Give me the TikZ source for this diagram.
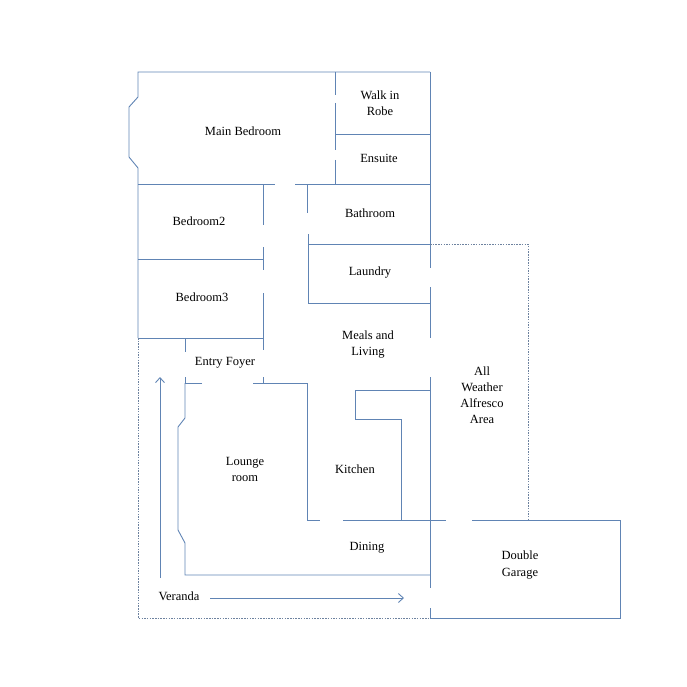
\documentclass[tikz,border=0pt]{standalone}
\usepackage{fontspec}
\setmainfont{Liberation Serif}
\usetikzlibrary{arrows.meta}
\definecolor{wall}{HTML}{6084B4}
\begin{document}
\begin{tikzpicture}[x=1pt,y=-1pt,
  w/.style={draw=wall,line width=0.9pt},
  dsh/.style={draw=wall!60!gray,line width=0.7pt,dash pattern=on 1.5pt off 1.2pt},
  arr/.style={draw=wall,line width=0.9pt,-{Straight Barb[length=5pt,width=9pt]}},
  lbl/.style={font=\fontsize{12.5}{16}\selectfont,align=center,text=black}]
\useasboundingbox (0,0) rectangle (687,687);
% outer / main bedroom
\draw[w] (430,72) -- (138,72) -- (138,97) -- (129,107) -- (129,157) -- (138,168) -- (138,338);
\draw[w] (430,72) -- (430,268);
\draw[w] (430,287) -- (430,338);
\draw[w] (430,377) -- (430,588);
\draw[w] (430,608) -- (430,618);
% walk in robe / ensuite
\draw[w] (335,72) -- (335,95);
\draw[w] (335,103) -- (335,150);
\draw[w] (335,160) -- (335,184);
\draw[w] (335,134) -- (430,134);
\draw[w] (138,184) -- (275,184);
\draw[w] (295,184) -- (430,184);
% bedrooms
\draw[w] (263,184) -- (263,225);
\draw[w] (263,247) -- (263,270);
\draw[w] (263,293) -- (263,350);
\draw[w] (138,259) -- (263,259);
\draw[w] (138,338) -- (263,338);
\draw[w] (185,338) -- (185,352);
% bathroom / laundry
\draw[w] (307,184) -- (307,213);
\draw[w] (308,234) -- (308,303) -- (430,303);
\draw[w] (308,244) -- (430,244);
% lounge
\draw[w] (263,377) -- (263,383);
\draw[w] (202,383) -- (185,383) -- (185,377);
\draw[w] (185,383) -- (185,418) -- (178,427) -- (178,530) -- (185,543) -- (185,575) -- (430,575);
\draw[w] (253,383) -- (307,383) -- (307,520) -- (320,520);
\draw[w] (343,520) -- (446,520);
\draw[w] (472,520) -- (620,520) -- (620,618) -- (430,618);
% kitchen
\draw[w] (430,390) -- (355,390) -- (355,419) -- (401,419) -- (401,520);
% dashed veranda / alfresco
\draw[dsh] (138,338) -- (138,618) -- (430,618);
\draw[dsh] (430,244) -- (528,244) -- (528,520);
% arrows
\coordinate (a1) at (160,578); \coordinate (a2) at (160,377);
\coordinate (b1) at (210,598); \coordinate (b2) at (404,598);
\draw[arr] (a1) -- (a2);
\draw[arr] (b1) -- (b2);
% labels
\node[lbl] (mb) at (243,131) {Main Bedroom};
\node[lbl] (wr) at (380,103) {Walk in\\Robe};
\node[lbl] (en) at (379,158) {Ensuite};
\node[lbl] (ba) at (370,213) {Bathroom};
\node[lbl] (b2l) at (199,221) {Bedroom2};
\node[lbl] (la) at (370,273) {Laundry};
\node[lbl] (b3l) at (202,297) {Bedroom3};
\node[lbl] (ml) at (368,345) {Meals and\\Living};
\node[lbl] (ef) at (225,363) {Entry Foyer};
\node[lbl] (al) at (482,395) {All\\Weather\\Alfresco\\Area};
\node[lbl] (lo) at (245,469) {Lounge\\room};
\node[lbl] (ki) at (355,469) {Kitchen};
\node[lbl] (di) at (367,548) {Dining};
\node[lbl,font=\fontsize{12.5}{17}\selectfont] (dg) at (520,565) {Double\\Garage};
\node[lbl] (ve) at (179,596) {Veranda};
\end{tikzpicture}
\end{document}
